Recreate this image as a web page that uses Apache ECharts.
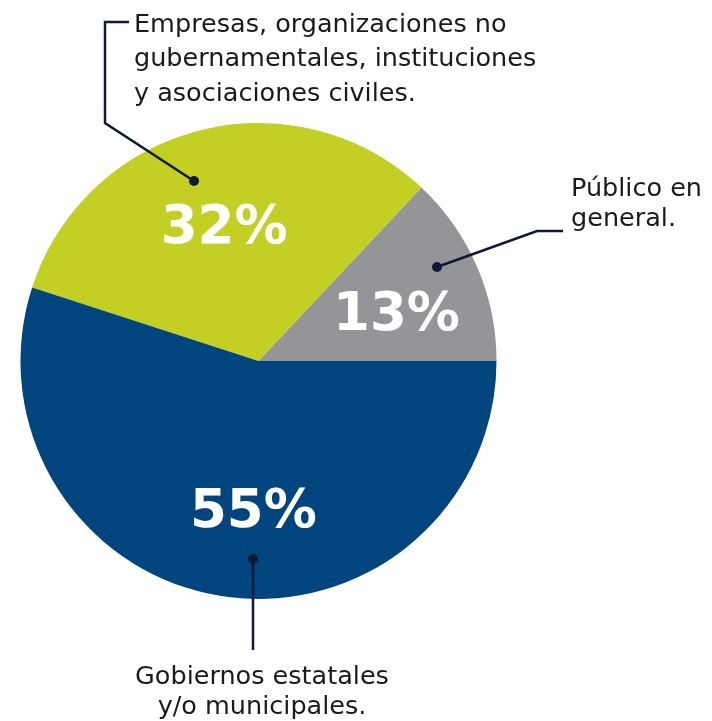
<!DOCTYPE html>
<html>
<head>
<meta charset="utf-8">
<script src="https://cdn.jsdelivr.net/npm/echarts@6/dist/echarts.min.js"></script>
<style>
html,body{margin:0;padding:0;background:#fff;}
#main{width:712px;height:721px;}
</style>
</head>
<body>
<div id="main"></div>
<script>
// Data
var categories = ['Público en general.', 'Empresas, organizaciones no gubernamentales, instituciones y asociaciones civiles.', 'Gobiernos estatales y/o municipales.'];
var values = [13, 32, 55];
var sliceColors = ['#939598', '#c3cf22', '#00457e'];
// label nudges (style only)
var labelOffsets = [[26, 4], [-4, -14], [14, 32]];

var chart = echarts.init(document.getElementById('main'), null, {renderer: 'canvas'});

var pieData = categories.map(function (c, i) {
  return {
    name: c,
    value: values[i],
    itemStyle: {color: sliceColors[i]},
    label: {offset: labelOffsets[i]}
  };
});

var lineColor = '#0e1a34';
var textColor = '#1a1a1a';
var labelFont = '25.5px "DejaVu Sans"';

chart.setOption({
  animation: false,
  backgroundColor: '#ffffff',
  series: [{
    type: 'pie',
    z: 1,
    center: [258.5, 361],
    radius: [0, 238],
    startAngle: 0,
    clockwise: false,
    avoidLabelOverlap: false,
    itemStyle: {borderWidth: 0},
    emphasis: {disabled: true},
    label: {
      show: true,
      position: 'inside',
      formatter: function (p) { return p.value + '%'; },
      color: '#ffffff',
      fontFamily: 'DejaVu Sans',
      fontWeight: 'bold',
      fontSize: 53
    },
    labelLine: {show: false},
    data: pieData
  }],
  graphic: {
    elements: [
      // Empresas annotation
      {type: 'polyline', z: 100, shape: {points: [[194, 181], [105, 123], [105, 22], [129, 22]]}, style: {stroke: lineColor, lineWidth: 2.5, fill: null}},
      {type: 'circle', z: 101, shape: {cx: 194, cy: 181, r: 5}, style: {fill: lineColor}},
      {type: 'text', z: 100, x: 134, y: 8, style: {text: 'Empresas, organizaciones no\ngubernamentales, instituciones\ny asociaciones civiles.', font: labelFont, fill: textColor, lineHeight: 34.5, verticalAlign: 'top'}},
      // Público annotation
      {type: 'polyline', z: 100, shape: {points: [[437, 267], [537, 231], [563, 231]]}, style: {stroke: lineColor, lineWidth: 2.5, fill: null}},
      {type: 'circle', z: 101, shape: {cx: 437, cy: 267, r: 5}, style: {fill: lineColor}},
      {type: 'text', z: 100, x: 571, y: 174.5, style: {text: 'Público en\ngeneral.', font: labelFont, fill: textColor, lineHeight: 30, verticalAlign: 'top'}},
      // Gobiernos annotation
      {type: 'polyline', z: 100, shape: {points: [[253, 559], [253, 650]]}, style: {stroke: lineColor, lineWidth: 2.5, fill: null}},
      {type: 'circle', z: 101, shape: {cx: 253, cy: 559, r: 5}, style: {fill: lineColor}},
      {type: 'text', z: 100, x: 262, y: 662, style: {text: 'Gobiernos estatales\ny/o municipales.', font: labelFont, fill: textColor, lineHeight: 30, align: 'center', verticalAlign: 'top'}}
    ]
  }
});
</script>
</body>
</html>
